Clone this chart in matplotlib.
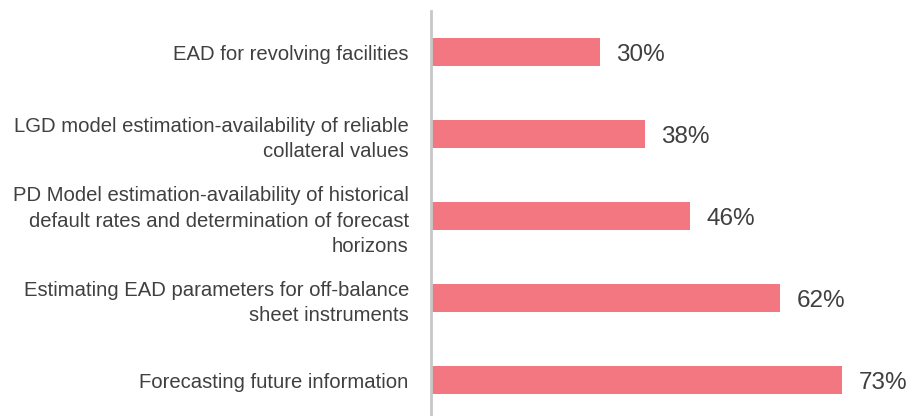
import matplotlib
matplotlib.use("Agg")
import matplotlib.pyplot as plt

categories = [
    "EAD for revolving facilities",
    "LGD model estimation-availability of reliable\ncollateral values",
    "PD Model estimation-availability of historical\ndefault rates and determination of forecast\nhorizons",
    "Estimating EAD parameters for off-balance\nsheet instruments",
    "Forecasting future information",
]
values = [30, 38, 46, 62, 73]

plt.rcParams['font.family'] = ['Liberation Sans', 'DejaVu Sans']

fig = plt.figure(figsize=(9.09, 4.16), dpi=100)
ax = fig.add_axes([431/909, 0, 478/909, 405/416])

ypos = list(range(len(categories)))
ax.barh(ypos, values, height=0.35, color='#F27780', zorder=2)
ax.set_xlim(0, 84.8)
ax.set_ylim(4.439, -0.5)

for y, v in zip(ypos, values):
    ax.text(v + 2.8, y, f"{v}%", va='center_baseline', ha='left', fontsize=17.5, color='#404040')

ax.set_yticks(ypos)
ax.set_yticklabels(categories, fontsize=14.6, color='#404040', linespacing=1.42)
ax.tick_params(axis='y', length=0, pad=16)
ax.set_xticks([])
for s in ['top', 'right', 'bottom']:
    ax.spines[s].set_visible(False)
ax.spines['left'].set_color('#C8C8C8')
ax.spines['left'].set_linewidth(2)
for lbl in ax.get_yticklabels():
    lbl.set_horizontalalignment('right')
    lbl.set_multialignment('right')

fig.savefig("out.png", dpi=100)
